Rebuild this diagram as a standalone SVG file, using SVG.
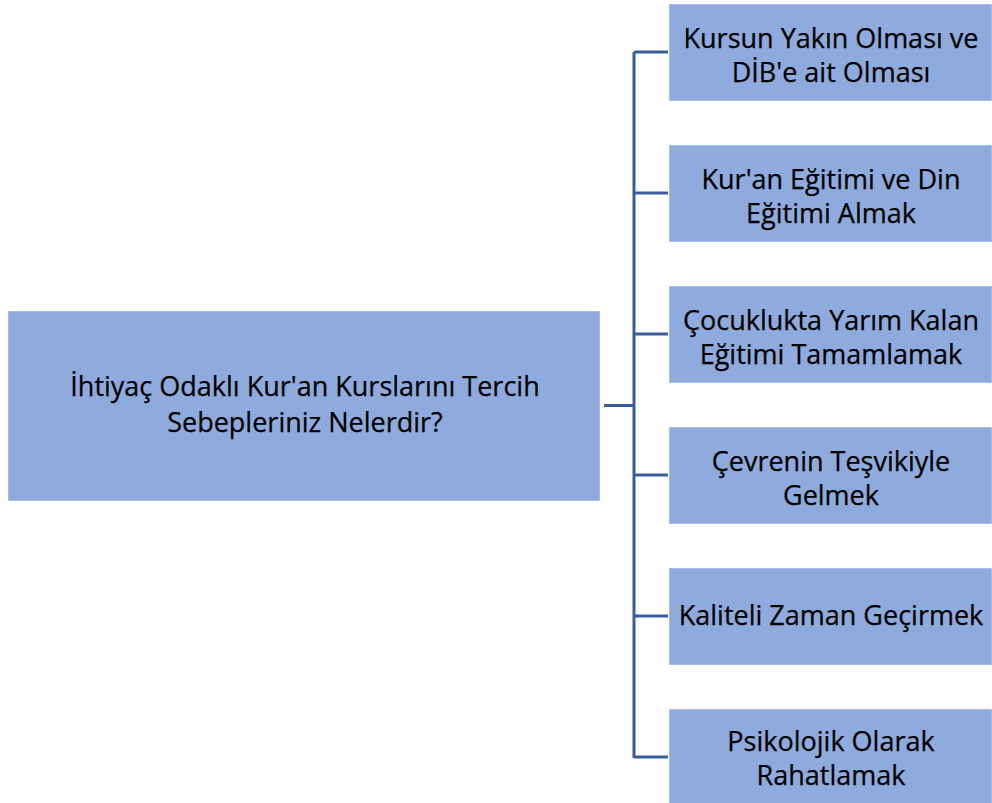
<svg xmlns="http://www.w3.org/2000/svg" width="992" height="803" viewBox="0 0 992 803">
<style>
.box{fill:#8faadc;stroke:#a9bde6;stroke-width:1}
.t{font-family:"Open Sans","Noto Sans","DejaVu Sans",sans-serif;font-size:27px;fill:#000;stroke:#000;stroke-width:0.25;text-anchor:middle}
.c{fill:none;stroke:#3a5c9c;stroke-width:3}
</style>
<rect width="992" height="803" fill="#fff"/>
<g id="connectors">
<path class="c" d="M604 405.5H634M634 52V758M634 52H668M634 193H668M634 334H668M634 475H668M634 616H668M634 757H668"/>
</g>
<g id="root">
<rect class="box" x="8.5" y="311.5" width="591" height="189"/>
<text class="t" x="305" y="396">İhtiyaç Odaklı Kur'an Kurslarını Tercih</text>
<text class="t" x="305" y="432">Sebepleriniz Nelerdir?</text>
</g>
<g id="n1">
<rect class="box" x="669.5" y="4.5" width="322" height="96"/>
<text class="t" x="831" y="48">Kursun Yakın Olması ve</text>
<text class="t" x="831" y="82">DİB'e ait Olması</text>
</g>
<g id="n2">
<rect class="box" x="669.5" y="145.5" width="322" height="96"/>
<text class="t" x="831" y="189">Kur'an Eğitimi ve Din</text>
<text class="t" x="831" y="223">Eğitimi Almak</text>
</g>
<g id="n3">
<rect class="box" x="669.5" y="286.5" width="322" height="96"/>
<text class="t" x="831" y="330">Çocuklukta Yarım Kalan</text>
<text class="t" x="831" y="364">Eğitimi Tamamlamak</text>
</g>
<g id="n4">
<rect class="box" x="669.5" y="427.5" width="322" height="96"/>
<text class="t" x="831" y="471">Çevrenin Teşvikiyle</text>
<text class="t" x="831" y="505">Gelmek</text>
</g>
<g id="n5">
<rect class="box" x="669.5" y="568.5" width="322" height="96"/>
<text class="t" x="831" y="625">Kaliteli Zaman Geçirmek</text>
</g>
<g id="n6">
<rect class="box" x="669.5" y="709.5" width="322" height="96"/>
<text class="t" x="831" y="751">Psikolojik Olarak</text>
<text class="t" x="831" y="785">Rahatlamak</text>
</g>
</svg>
